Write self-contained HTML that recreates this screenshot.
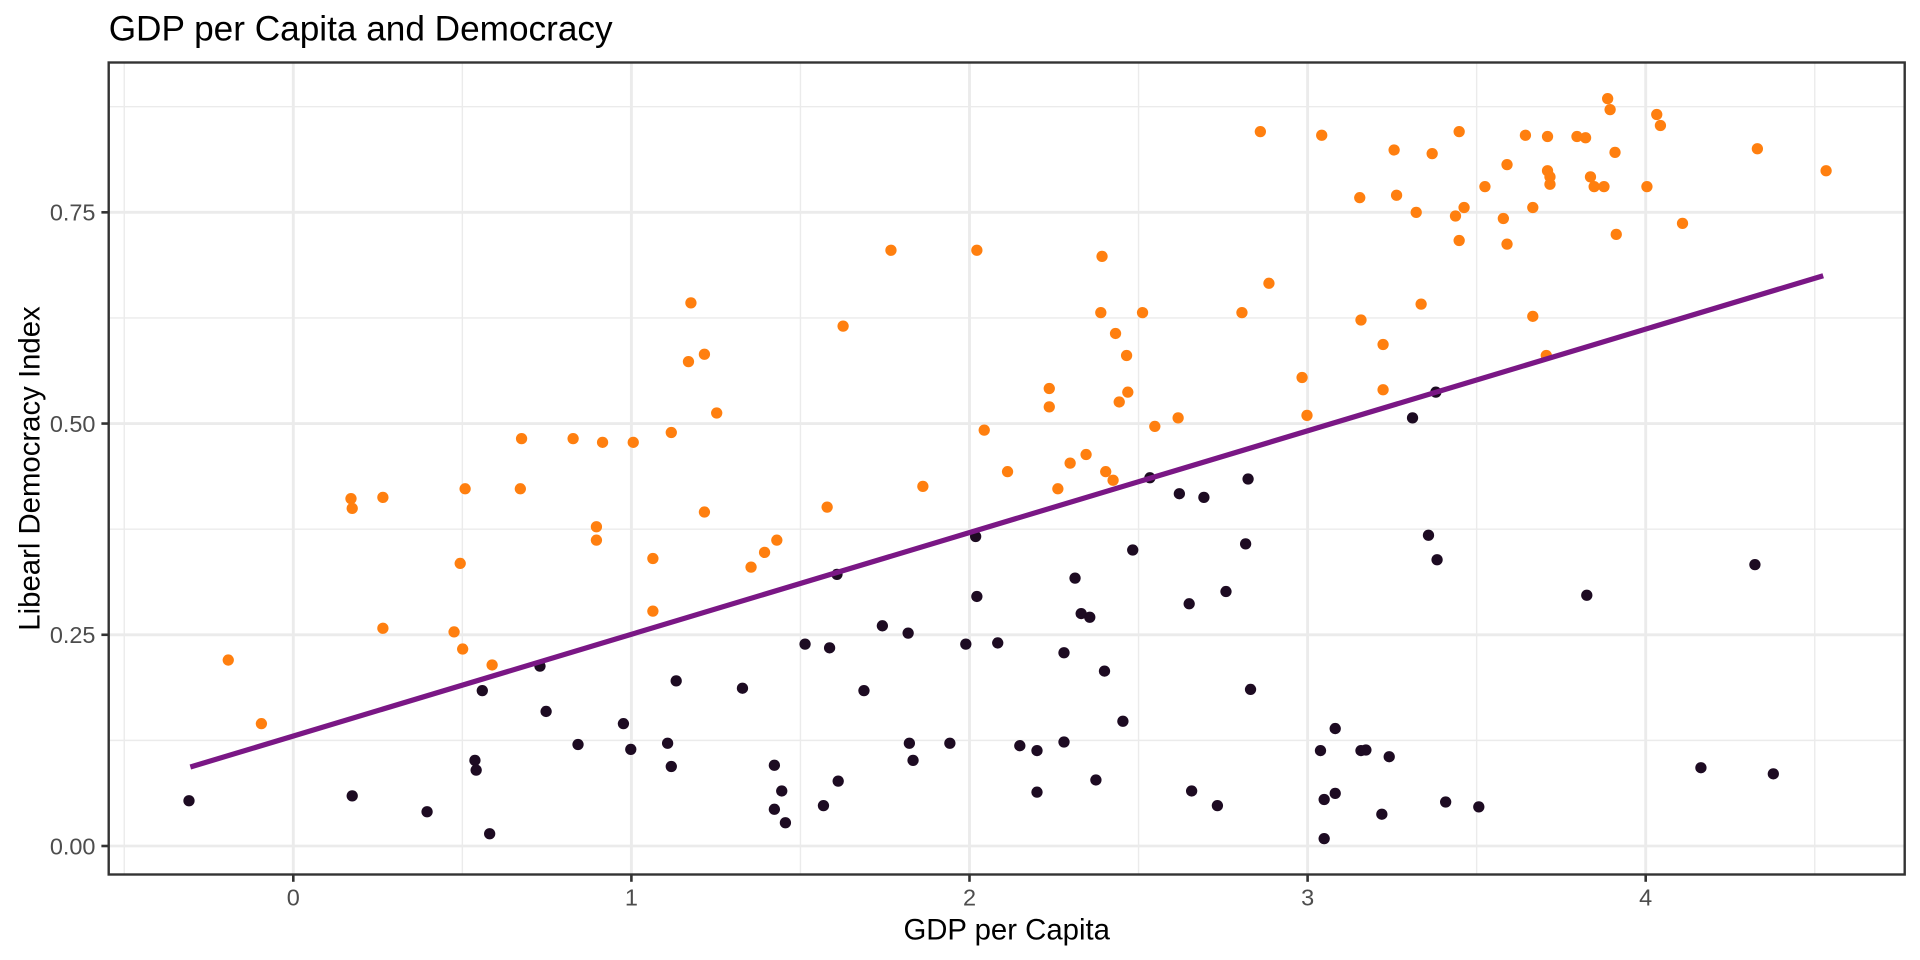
<!DOCTYPE html>
<html>
<head>
<meta charset="utf-8">
<style>
  html, body { margin:0; padding:0; background:#ffffff; }
  svg { display:block; }
  text { font-family: "Liberation Sans", Arial, sans-serif; }
</style>
</head>
<body>
<svg width="1920" height="960" viewBox="0 0 1920 960" xmlns="http://www.w3.org/2000/svg">
  <rect x="0" y="0" width="1920" height="960" fill="#ffffff"/>

  <text x="108.7" y="40.5" font-size="35.2" fill="#000000">GDP per Capita and Democracy</text>

  <rect x="108.7" y="62.5" width="1796" height="812" fill="#ffffff"/>

  <g stroke="#EBEBEB" stroke-width="1.42" fill="none">
    <line x1="124.25" y1="62.5" x2="124.25" y2="874.5"/>
    <line x1="462.35" y1="62.5" x2="462.35" y2="874.5"/>
    <line x1="800.45" y1="62.5" x2="800.45" y2="874.5"/>
    <line x1="1138.55" y1="62.5" x2="1138.55" y2="874.5"/>
    <line x1="1476.65" y1="62.5" x2="1476.65" y2="874.5"/>
    <line x1="1814.75" y1="62.5" x2="1814.75" y2="874.5"/>
    <line x1="108.7" y1="740.39" x2="1904.7" y2="740.39"/>
    <line x1="108.7" y1="529.16" x2="1904.7" y2="529.16"/>
    <line x1="108.7" y1="317.94" x2="1904.7" y2="317.94"/>
    <line x1="108.7" y1="106.71" x2="1904.7" y2="106.71"/>
  </g>
  <g stroke="#EBEBEB" stroke-width="2.85" fill="none">
    <line x1="293.3" y1="62.5" x2="293.3" y2="874.5"/>
    <line x1="631.4" y1="62.5" x2="631.4" y2="874.5"/>
    <line x1="969.5" y1="62.5" x2="969.5" y2="874.5"/>
    <line x1="1307.6" y1="62.5" x2="1307.6" y2="874.5"/>
    <line x1="1645.7" y1="62.5" x2="1645.7" y2="874.5"/>
    <line x1="108.7" y1="846" x2="1904.7" y2="846"/>
    <line x1="108.7" y1="634.78" x2="1904.7" y2="634.78"/>
    <line x1="108.7" y1="423.55" x2="1904.7" y2="423.55"/>
    <line x1="108.7" y1="212.33" x2="1904.7" y2="212.33"/>
  </g>

  <g transform="matrix(1.22722 0 0 1.22325 -1.23 0.73)">
    <g fill="#FF7F0F">
      <circle cx="187" cy="539" r="4.6"/>
      <circle cx="214" cy="591" r="4.6"/>
      <circle cx="287" cy="407" r="4.6"/>
      <circle cx="288" cy="415" r="4.6"/>
      <circle cx="313" cy="406" r="4.6"/>
      <circle cx="313" cy="513" r="4.6"/>
      <circle cx="376" cy="460" r="4.6"/>
      <circle cx="371" cy="516" r="4.6"/>
      <circle cx="378" cy="530" r="4.6"/>
      <circle cx="380" cy="399" r="4.6"/>
      <circle cx="402" cy="543" r="4.6"/>
      <circle cx="425" cy="399" r="4.6"/>
      <circle cx="426" cy="358" r="4.6"/>
      <circle cx="468" cy="358" r="4.6"/>
      <circle cx="487" cy="430" r="4.6"/>
      <circle cx="487" cy="441" r="4.6"/>
      <circle cx="492" cy="361" r="4.6"/>
      <circle cx="517" cy="361" r="4.6"/>
      <circle cx="533" cy="499" r="4.6"/>
      <circle cx="533" cy="456" r="4.6"/>
      <circle cx="548" cy="353" r="4.6"/>
      <circle cx="562" cy="295" r="4.6"/>
      <circle cx="564" cy="247" r="4.6"/>
      <circle cx="575" cy="289" r="4.6"/>
      <circle cx="575" cy="418" r="4.6"/>
      <circle cx="585" cy="337" r="4.6"/>
      <circle cx="613" cy="463" r="4.6"/>
      <circle cx="624" cy="451" r="4.6"/>
      <circle cx="634" cy="441" r="4.6"/>
      <circle cx="675" cy="414" r="4.6"/>
      <circle cx="688" cy="266" r="4.6"/>
      <circle cx="727" cy="204" r="4.6"/>
      <circle cx="753" cy="397" r="4.6"/>
      <circle cx="797" cy="204" r="4.6"/>
      <circle cx="803" cy="351" r="4.6"/>
      <circle cx="822" cy="385" r="4.6"/>
      <circle cx="856" cy="317" r="4.6"/>
      <circle cx="856" cy="332" r="4.6"/>
      <circle cx="863" cy="399" r="4.6"/>
      <circle cx="873" cy="378" r="4.6"/>
      <circle cx="886" cy="371" r="4.6"/>
      <circle cx="898" cy="255" r="4.6"/>
      <circle cx="899" cy="209" r="4.6"/>
      <circle cx="902" cy="385" r="4.6"/>
      <circle cx="908" cy="392" r="4.6"/>
      <circle cx="910" cy="272" r="4.6"/>
      <circle cx="913" cy="328" r="4.6"/>
      <circle cx="919" cy="290" r="4.6"/>
      <circle cx="920" cy="320" r="4.6"/>
      <circle cx="932" cy="255" r="4.6"/>
      <circle cx="942" cy="348" r="4.6"/>
      <circle cx="961" cy="341" r="4.6"/>
      <circle cx="1013" cy="255" r="4.6"/>
      <circle cx="1028" cy="107" r="4.6"/>
      <circle cx="1035" cy="231" r="4.6"/>
      <circle cx="1062" cy="308" r="4.6"/>
      <circle cx="1066" cy="339" r="4.6"/>
      <circle cx="1078" cy="110" r="4.6"/>
      <circle cx="1109" cy="161" r="4.6"/>
      <circle cx="1110" cy="261" r="4.6"/>
      <circle cx="1137" cy="122" r="4.6"/>
      <circle cx="1139" cy="159" r="4.6"/>
      <circle cx="1128" cy="318" r="4.6"/>
      <circle cx="1128" cy="281" r="4.6"/>
      <circle cx="1155" cy="173" r="4.6"/>
      <circle cx="1159" cy="248" r="4.6"/>
      <circle cx="1168" cy="125" r="4.6"/>
      <circle cx="1187" cy="176" r="4.6"/>
      <circle cx="1190" cy="107" r="4.6"/>
      <circle cx="1190" cy="196" r="4.6"/>
      <circle cx="1194" cy="169" r="4.6"/>
      <circle cx="1211" cy="152" r="4.6"/>
      <circle cx="1226" cy="178" r="4.6"/>
      <circle cx="1229" cy="199" r="4.6"/>
      <circle cx="1229" cy="134" r="4.6"/>
      <circle cx="1244" cy="110" r="4.6"/>
      <circle cx="1250" cy="169" r="4.6"/>
      <circle cx="1250" cy="258" r="4.6"/>
      <circle cx="1262" cy="111" r="4.6"/>
      <circle cx="1261" cy="290" r="4.6"/>
      <circle cx="1262" cy="139" r="4.6"/>
      <circle cx="1264" cy="144" r="4.6"/>
      <circle cx="1264" cy="150" r="4.6"/>
      <circle cx="1286" cy="111" r="4.6"/>
      <circle cx="1293" cy="112" r="4.6"/>
      <circle cx="1297" cy="144" r="4.6"/>
      <circle cx="1300" cy="152" r="4.6"/>
      <circle cx="1308" cy="152" r="4.6"/>
      <circle cx="1311" cy="80" r="4.6"/>
      <circle cx="1313" cy="89" r="4.6"/>
      <circle cx="1317" cy="124" r="4.6"/>
      <circle cx="1318" cy="191" r="4.6"/>
      <circle cx="1343" cy="152" r="4.6"/>
      <circle cx="1351" cy="93" r="4.6"/>
      <circle cx="1354" cy="102" r="4.6"/>
      <circle cx="1372" cy="182" r="4.6"/>
      <circle cx="1433" cy="121" r="4.6"/>
      <circle cx="1489" cy="139" r="4.6"/>
    </g>
    <g fill="#1D0B22">
      <circle cx="155" cy="654" r="4.6"/>
      <circle cx="288" cy="650" r="4.6"/>
      <circle cx="349" cy="663" r="4.6"/>
      <circle cx="394" cy="564" r="4.6"/>
      <circle cx="388" cy="621" r="4.6"/>
      <circle cx="389" cy="629" r="4.6"/>
      <circle cx="400" cy="681" r="4.6"/>
      <circle cx="441" cy="544" r="4.6"/>
      <circle cx="446" cy="581" r="4.6"/>
      <circle cx="472" cy="608" r="4.6"/>
      <circle cx="509" cy="591" r="4.6"/>
      <circle cx="515" cy="612" r="4.6"/>
      <circle cx="545" cy="607" r="4.6"/>
      <circle cx="548" cy="626" r="4.6"/>
      <circle cx="552" cy="556" r="4.6"/>
      <circle cx="606" cy="562" r="4.6"/>
      <circle cx="632" cy="661" r="4.6"/>
      <circle cx="632" cy="625" r="4.6"/>
      <circle cx="638" cy="646" r="4.6"/>
      <circle cx="641" cy="672" r="4.6"/>
      <circle cx="657" cy="526" r="4.6"/>
      <circle cx="672" cy="658" r="4.6"/>
      <circle cx="677" cy="529" r="4.6"/>
      <circle cx="683" cy="469" r="4.6"/>
      <circle cx="684" cy="638" r="4.6"/>
      <circle cx="705" cy="564" r="4.6"/>
      <circle cx="720" cy="511" r="4.6"/>
      <circle cx="741" cy="517" r="4.6"/>
      <circle cx="742" cy="607" r="4.6"/>
      <circle cx="745" cy="621" r="4.6"/>
      <circle cx="775" cy="607" r="4.6"/>
      <circle cx="796" cy="438" r="4.6"/>
      <circle cx="788" cy="526" r="4.6"/>
      <circle cx="797" cy="487" r="4.6"/>
      <circle cx="814" cy="525" r="4.6"/>
      <circle cx="832" cy="609" r="4.6"/>
      <circle cx="846" cy="613" r="4.6"/>
      <circle cx="846" cy="647" r="4.6"/>
      <circle cx="868" cy="533" r="4.6"/>
      <circle cx="868" cy="606" r="4.6"/>
      <circle cx="877" cy="472" r="4.6"/>
      <circle cx="882" cy="501" r="4.6"/>
      <circle cx="889" cy="504" r="4.6"/>
      <circle cx="894" cy="637" r="4.6"/>
      <circle cx="901" cy="548" r="4.6"/>
      <circle cx="916" cy="589" r="4.6"/>
      <circle cx="924" cy="449" r="4.6"/>
      <circle cx="938" cy="390" r="4.6"/>
      <circle cx="962" cy="403" r="4.6"/>
      <circle cx="970" cy="493" r="4.6"/>
      <circle cx="972" cy="646" r="4.6"/>
      <circle cx="982" cy="406" r="4.6"/>
      <circle cx="993" cy="658" r="4.6"/>
      <circle cx="1000" cy="483" r="4.6"/>
      <circle cx="1016" cy="444" r="4.6"/>
      <circle cx="1018" cy="391" r="4.6"/>
      <circle cx="1020" cy="563" r="4.6"/>
      <circle cx="1077" cy="613" r="4.6"/>
      <circle cx="1080" cy="653" r="4.6"/>
      <circle cx="1080" cy="685" r="4.6"/>
      <circle cx="1089" cy="595" r="4.6"/>
      <circle cx="1089" cy="648" r="4.6"/>
      <circle cx="1110" cy="613" r="4.6"/>
      <circle cx="1114" cy="612.5" r="4.6"/>
      <circle cx="1152" cy="341" r="4.6"/>
      <circle cx="1127" cy="665" r="4.6"/>
      <circle cx="1133" cy="618" r="4.6"/>
      <circle cx="1165" cy="437" r="4.6"/>
      <circle cx="1171" cy="320" r="4.6"/>
      <circle cx="1172" cy="457" r="4.6"/>
      <circle cx="1179" cy="655" r="4.6"/>
      <circle cx="1206" cy="659" r="4.6"/>
      <circle cx="1294" cy="486" r="4.6"/>
      <circle cx="1387" cy="627" r="4.6"/>
      <circle cx="1431" cy="461" r="4.6"/>
      <circle cx="1446" cy="632" r="4.6"/>
    </g>
  </g>

  <line x1="190.35" y1="767.0" x2="1823.2" y2="275.7" stroke="#7A1785" stroke-width="5.2"/>

  <rect x="108.7" y="62.5" width="1796" height="812" fill="none" stroke="#333333" stroke-width="2.4"/>

  <g stroke="#333333" stroke-width="2.6">
    <line x1="101.4" y1="846" x2="108.7" y2="846"/>
    <line x1="101.4" y1="634.78" x2="108.7" y2="634.78"/>
    <line x1="101.4" y1="423.55" x2="108.7" y2="423.55"/>
    <line x1="101.4" y1="212.33" x2="108.7" y2="212.33"/>
    <line x1="293.3" y1="874.5" x2="293.3" y2="881.8"/>
    <line x1="631.4" y1="874.5" x2="631.4" y2="881.8"/>
    <line x1="969.5" y1="874.5" x2="969.5" y2="881.8"/>
    <line x1="1307.6" y1="874.5" x2="1307.6" y2="881.8"/>
    <line x1="1645.7" y1="874.5" x2="1645.7" y2="881.8"/>
  </g>

  <g font-size="23.47" fill="#4D4D4D" text-anchor="end">
    <text x="95.5" y="854.4">0.00</text>
    <text x="95.5" y="643.2">0.25</text>
    <text x="95.5" y="432.0">0.50</text>
    <text x="95.5" y="220.7">0.75</text>
  </g>
  <g font-size="23.47" fill="#4D4D4D" text-anchor="middle">
    <text x="293.3" y="905.5">0</text>
    <text x="631.4" y="905.5">1</text>
    <text x="969.5" y="905.5">2</text>
    <text x="1307.6" y="905.5">3</text>
    <text x="1645.7" y="905.5">4</text>
  </g>

  <text x="1006.7" y="939.3" font-size="29.33" fill="#000000" text-anchor="middle">GDP per Capita</text>
  <text transform="translate(39.5,468.5) rotate(-90)" font-size="29.33" fill="#000000" text-anchor="middle">Libearl Democracy Index</text>
</svg>
</body>
</html>
